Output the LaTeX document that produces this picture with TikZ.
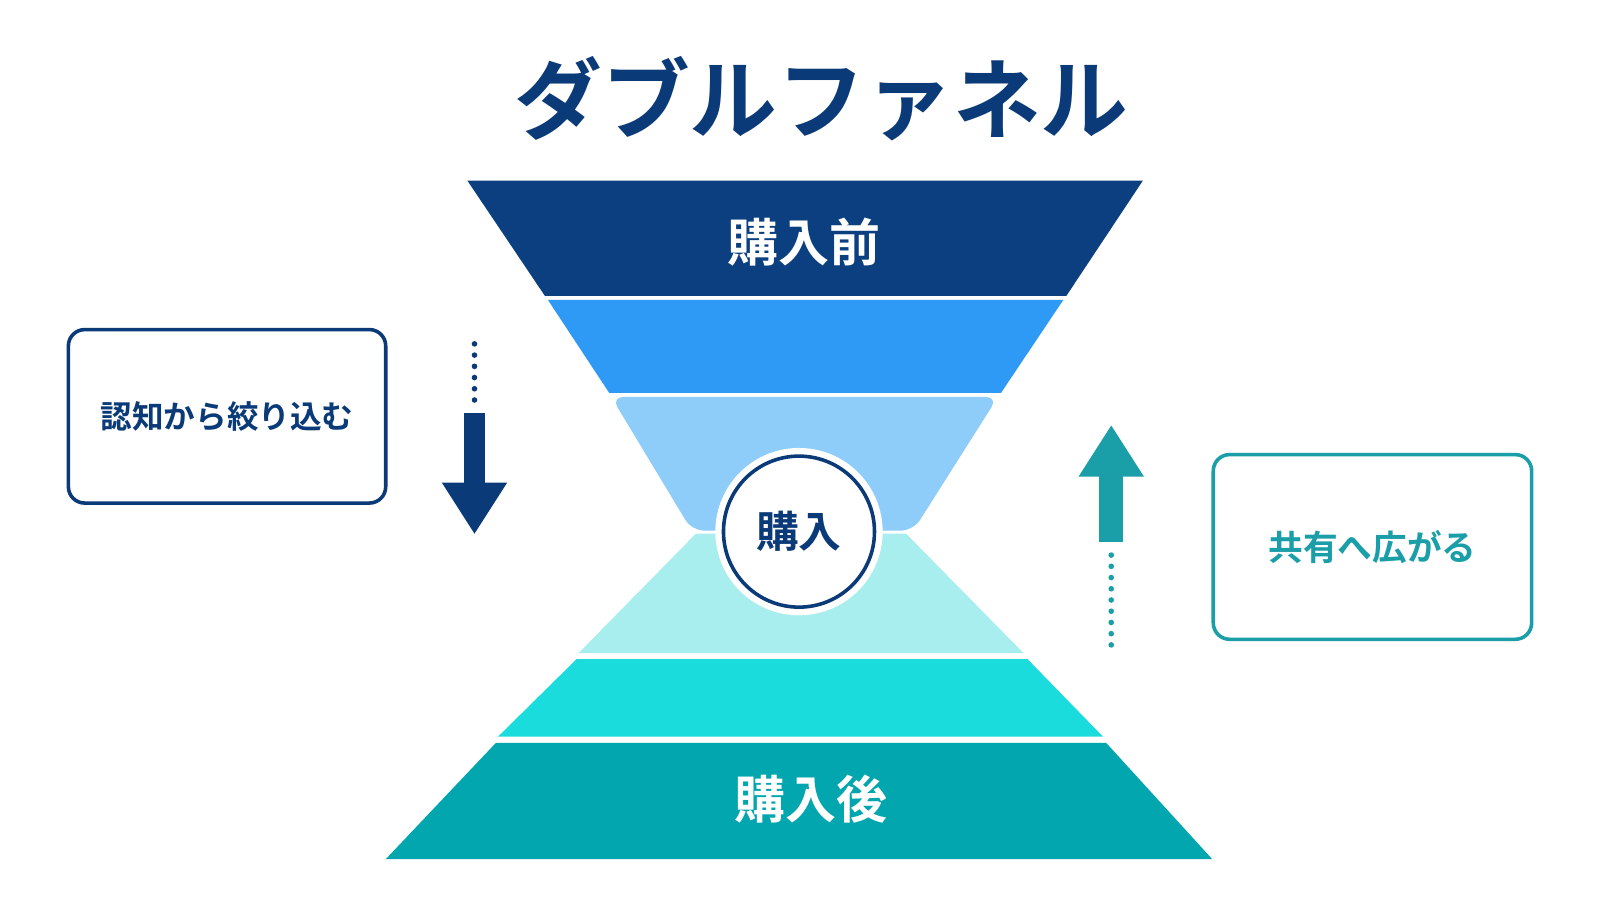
\documentclass[tikz,border=0pt]{standalone}
\usepackage{fontspec}
\setmainfont{Noto Sans CJK JP}[BoldFont=* Bold]
\definecolor{navy}{HTML}{0B3A78}
\definecolor{c1}{HTML}{0B3F80}
\definecolor{c2}{HTML}{2E9AF5}
\definecolor{c3}{HTML}{8ECCFA}
\definecolor{c4}{HTML}{A8EEEE}
\definecolor{c5}{HTML}{1ADCDC}
\definecolor{c6}{HTML}{02A6AF}
\definecolor{teal}{HTML}{1A9EA8}
\begin{document}
\begin{tikzpicture}[x=1pt,y=-1pt,
  band/.style={draw=none},
  lbl/.style={font=\bfseries\fontsize{50}{50}\selectfont,text=white},
  box/.style={rounded corners=16pt,line width=3.5pt,fill=white},
  dots/.style={line width=5.5pt,line cap=round,dash pattern=on 0pt off 11pt}]
\useasboundingbox (0,0) rectangle (1568,882);
\fill[white] (0,0) rectangle (1568,882);
\node[font=\bfseries\fontsize{86}{86}\selectfont,text=navy] (title) at (805,97) {ダブルファネル};
% top funnel
\fill[c1] (458,177) -- (1120,177) -- (1045,290) -- (534,290) -- cycle;
\fill[c2] (537,294) -- (1042,294) -- (981,385) -- (597,385) -- cycle;
\fill[c3,rounded corners=12pt] (599,389) -- (978,389) -- (895,520) -- (678,520) -- cycle;
% bottom funnel
\fill[c4] (682,523) -- (888,523) -- (1003,640) -- (567,640) -- cycle;
\fill[c5] (565,646) -- (1007,646) -- (1081,722) -- (488,722) -- cycle;
\fill[c6] (486,728) -- (1084,728) -- (1188,842) -- (378,842) -- cycle;
\node[lbl] (pre) at (788,237) {購入前};
\node[lbl] (post) at (795,783) {購入後};
% circle
\fill[white] (783,521) circle (82);
\node[circle,draw=navy,line width=3.5pt,fill=white,minimum size=148pt,inner sep=0pt,
  font=\bfseries\fontsize{42}{42}\selectfont,text=navy] (buy) at (783,521) {購入};
% left box
\node[box,draw=navy,minimum width=311pt,minimum height=170pt,
  font=\bfseries\fontsize{31}{31}\selectfont,text=navy] (lbox) at (222.5,408) {認知から絞り込む};
\coordinate (ld1) at (465,337); \coordinate (ld2) at (465,398);
\draw[navy,dots] (ld1) -- (ld2);
\fill[navy] (455,405) rectangle (475,474);
\fill[navy] (433,473) -- (497,473) -- (465,523) -- cycle;
% right box
\node[box,draw=teal,minimum width=312pt,minimum height=181pt,
  font=\bfseries\fontsize{34}{34}\selectfont,text=teal] (rbox) at (1345,536) {共有へ広がる};
\coordinate (rd1) at (1089,544); \coordinate (rd2) at (1089,636);
\draw[teal,dots] (rd1) -- (rd2);
\fill[teal] (1077,466) rectangle (1101,531);
\fill[teal] (1089,417) -- (1121,467) -- (1057,467) -- cycle;
\end{tikzpicture}
\end{document}
